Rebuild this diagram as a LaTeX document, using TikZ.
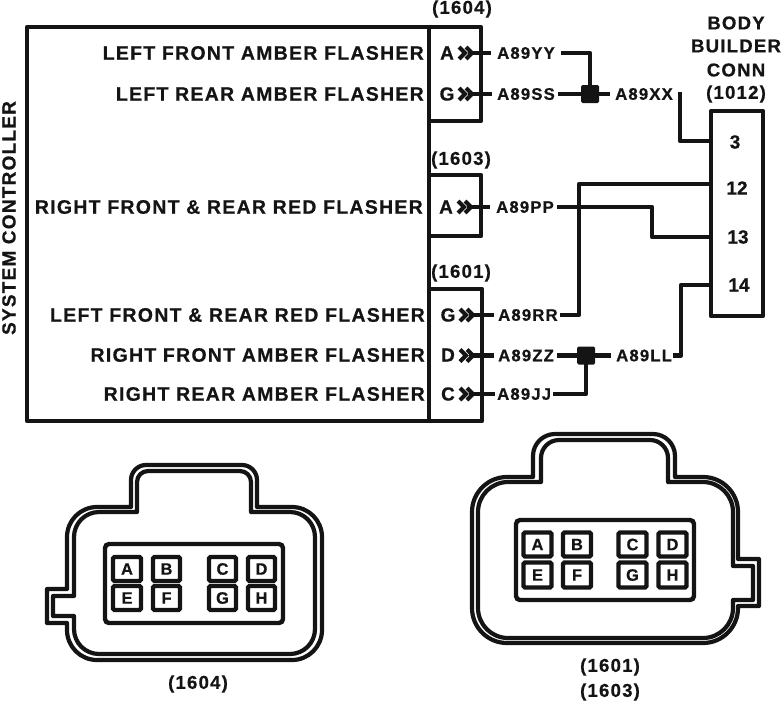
\documentclass[tikz,border=0pt]{standalone}
\usepackage{fontspec}
\setmainfont{Liberation Sans}[BoldFeatures={FakeBold=0.6}]
\newfontfamily\labfont[LetterSpace=6.5,BoldFeatures={FakeBold=0.6}]{Liberation Sans}
\newfontfamily\wirefont[LetterSpace=7,BoldFeatures={FakeBold=0.6}]{Liberation Sans}
\usetikzlibrary{calc}
\definecolor{ink}{HTML}{141414}
\tikzset{
  wire/.style={draw=ink,line width=4.4pt,line join=round},
  boxline/.style={draw=ink,line width=4.6pt,line join=round},
  shell/.style={draw=ink,line width=4.2pt,line join=round},
  sig/.style={font=\labfont\fontsize{19.5}{22}\selectfont\bfseries,text=ink,inner sep=0pt,anchor=east},
  wlab/.style={font=\wirefont\fontsize{16.7}{18}\selectfont\bfseries,text=ink,inner sep=0pt,anchor=west},
  pinlab/.style={font=\fontsize{19}{20}\selectfont\bfseries,text=ink,inner sep=0pt},
  conn/.style={font=\labfont\fontsize{18.6}{20}\selectfont\bfseries,text=ink,inner sep=0pt},
  junction/.style={fill=ink,draw=none,minimum size=18pt,inner sep=0pt,rounded corners=1.5pt},
  pinbox/.style={draw=ink,line width=4.4pt,rounded corners=1.5pt,inner sep=0pt,font=\fontsize{16.5}{18}\selectfont\bfseries,text=ink},
  chev/.style={draw=ink,line width=4pt,line join=miter},
}
\newcommand{\chevrons}[2]{%
  \draw[chev] (#1-6,#2-6) -- (#1,#2) -- (#1-6,#2+6);
  \draw[chev] (#1+1,#2-6) -- (#1+7,#2) -- (#1+1,#2+6);
}
\newcommand{\cavity}[7]{%
  \node[pinbox,minimum width=#4pt,minimum height=#5pt] (#1) at (#2,#3) {#6\vphantom{#7}};
}
\begin{document}
\begin{tikzpicture}[x=1pt,y=-1pt]
\useasboundingbox (0,0) rectangle (783,702);
% boxes
\node[boxline,minimum width=402pt,minimum height=394pt,inner sep=0pt] (ctrl) at (228,224) {};
\node[boxline,minimum width=52pt,minimum height=94pt,inner sep=0pt] (c1604) at (455,74) {};
\node[boxline,minimum width=52pt,minimum height=61pt,inner sep=0pt] (c1603) at (455,205.5) {};
\node[boxline,minimum width=53pt,minimum height=132pt,inner sep=0pt] (c1601) at (455.5,355) {};
\node[boxline,minimum width=52pt,minimum height=205pt,inner sep=0pt] (c1012) at (737,213.5) {};
% titles
\node[conn] (t1604) at (462,9) {(1604)};
\node[conn] (t1603) at (461,160) {(1603)};
\node[conn] (t1601) at (461,273) {(1601)};
\node[conn] (tb1) at (736,23) {BODY};
\node[conn] (tb2) at (736,46) {BUILDER};
\node[conn] (tb3) at (736,70) {CONN};
\node[conn] (tb4) at (736,94) {(1012)};
\node[conn,rotate=90,font=\labfont\fontsize{19}{22}\selectfont\bfseries] (sc) at (9,218) {SYSTEM CONTROLLER};
% signal names
\node[sig] (s1) at (424,53) {LEFT FRONT AMBER FLASHER};
\node[sig] (s2) at (424,94) {LEFT REAR AMBER FLASHER};
\node[sig] (s3) at (423,207) {RIGHT FRONT \& REAR RED FLASHER};
\node[sig] (s4) at (425,315) {LEFT FRONT \& REAR RED FLASHER};
\node[sig] (s5) at (425,355) {RIGHT FRONT AMBER FLASHER};
\node[sig] (s6) at (425,394) {RIGHT REAR AMBER FLASHER};
% pin letters
\node[pinlab] (p1) at (447,53) {A};
\node[pinlab] (p2) at (447,94) {G};
\node[pinlab] (p3) at (446,207) {A};
\node[pinlab] (p4) at (448,315) {G};
\node[pinlab] (p5) at (448,355) {D};
\node[pinlab] (p6) at (448,394) {C};
% body builder pins
\node[pinlab] (n3) at (735,142) {3};
\node[pinlab] (n12) at (737,188) {12};
\node[pinlab] (n13) at (738,237) {13};
\node[pinlab] (n14) at (739,285) {14};
% wire labels
\node[wlab] (yy) at (497,53) {A89YY};
\node[wlab] (ss) at (497,94) {A89SS};
\node[wlab] (xx) at (615,94) {A89XX};
\node[wlab] (pp) at (496,207) {A89PP};
\node[wlab] (rr) at (498,315) {A89RR};
\node[wlab] (zz) at (498,355.5) {A89ZZ};
\node[wlab] (ll) at (616,355.5) {A89LL};
\node[wlab] (jj) at (497,394) {A89JJ};
% junctions
\node[junction] (j1) at (590,94) {};
\node[junction] (j2) at (586,355.5) {};
% chevrons and stubs
\foreach \yy/\xx in {53/465,94/465,207/464,315/466,355.5/466,394/466}{\chevrons{\xx}{\yy}}
\coordinate (e1) at (491,53); \coordinate (e2) at (492,94); \coordinate (e3) at (490,207);
\coordinate (e4) at (494,315); \coordinate (e5) at (494,355.5); \coordinate (e6) at (495,394);
\draw[wire] (468,53) -- (e1);
\draw[wire] (468,94) -- (e2);
\draw[wire] (467,207) -- (e3);
\draw[wire] (469,315) -- (e4);
\draw[wire] (469,355.5) -- (e5);
\draw[wire] (469,394) -- (e6);
% wires
\coordinate (yyr) at (561,53); \coordinate (ssr) at (558,94); \coordinate (xxl) at (610,94);
\coordinate (xxr) at (680,92); \coordinate (pin3) at (711,141);
\coordinate (pin12) at (711,184); \coordinate (rrr) at (560,315);
\coordinate (ppr) at (557,207); \coordinate (pin13) at (711,237);
\coordinate (pin14) at (711,285); \coordinate (llr) at (673,355.5);
\coordinate (zzr) at (557,355.5); \coordinate (lll) at (611,355.5); \coordinate (jjr) at (553,394);
\draw[wire] (yyr) -| (j1.center);
\draw[wire] (ssr) -- (j1.center) -- (xxl);
\draw[wire] (xxr) |- (pin3);
\draw[wire] (pin12) -- (579,184) |- (rrr);
\draw[wire] (ppr) -- (652,207) |- (pin13);
\draw[wire] (pin14) -- (681,285) |- (llr);
\draw[wire] (zzr) -- (j2.center) -- (lll);
\draw[wire] (jjr) -| (j2.center);
% connector 1604
\draw[shell]
 (131,507) [rounded corners=15pt] -- (131,465) -- (257,465) [sharp corners] -- (257,507)
 [rounded corners=30pt] -- (322,507) -- (322,660) -- (67,660) [sharp corners] -- (67,623) -- (47,623) -- (47,589) -- (67,589)
 [rounded corners=30pt] -- (67,507) [sharp corners] -- cycle;
\draw[shell]
 (137,512) [rounded corners=11pt] -- (137,471) -- (251,471) [sharp corners] -- (251,512)
 [rounded corners=25pt] -- (315,512) -- (315,654) -- (74,654) [sharp corners] -- (74,616) -- (53,616) -- (53,596) -- (74,596)
 [rounded corners=25pt] -- (74,512) [sharp corners] -- cycle;
\node[draw=ink,line width=4.4pt,rounded corners=4pt,minimum width=178pt,minimum height=79pt,inner sep=0pt] (f1604) at (194,583.5) {};
\cavity{a1}{127}{569}{28}{24}{A}{A}
\cavity{b1}{166.5}{569}{27}{24}{B}{A}
\cavity{c1}{222.5}{569}{27}{24}{C}{A}
\cavity{d1}{261.5}{569}{27}{24}{D}{A}
\cavity{e1b}{127}{598}{28}{24}{E}{A}
\cavity{f1}{166.5}{598}{27}{24}{F}{A}
\cavity{g1}{222.5}{598}{27}{24}{G}{A}
\cavity{h1}{261.5}{598}{27}{24}{H}{A}
\node[conn] (l1604) at (198,684) {(1604)};
% connector 1601/1603
\draw[shell]
 (533,477) [rounded corners=22pt] -- (533,434) -- (675,434) [sharp corners] -- (675,477)
 [rounded corners=35pt] -- (738,477) [sharp corners] -- (738,559) -- (759,559) -- (759,606) -- (738,606)
 [rounded corners=35pt] -- (738,643) -- (472,643) -- (472,477) [sharp corners] -- cycle;
\draw[shell]
 (541,482) [rounded corners=18pt] -- (541,440) -- (668,440) [sharp corners] -- (668,482)
 [rounded corners=30pt] -- (733,482) [sharp corners] -- (733,566) -- (753,566) -- (753,600) -- (733,600)
 [rounded corners=30pt] -- (733,638) -- (478,638) -- (478,482) [sharp corners] -- cycle;
\node[draw=ink,line width=4.4pt,rounded corners=4pt,minimum width=178pt,minimum height=80pt,inner sep=0pt] (f1601) at (605,560) {};
\cavity{a2}{537.5}{544.5}{28}{24}{A}{A}
\cavity{b2}{577}{544.5}{28}{24}{B}{A}
\cavity{c2}{632.5}{544.5}{28}{24}{C}{A}
\cavity{d2}{672.5}{544.5}{28}{24}{D}{A}
\cavity{e2}{537.5}{575}{28}{25}{E}{A}
\cavity{f2}{577}{575}{28}{25}{F}{A}
\cavity{g2}{632.5}{575}{28}{25}{G}{A}
\cavity{h2}{672.5}{575}{28}{25}{H}{A}
\node[conn] (l1601) at (610,667) {(1601)};
\node[conn] (l1603) at (610,692) {(1603)};
\end{tikzpicture}
\end{document}
